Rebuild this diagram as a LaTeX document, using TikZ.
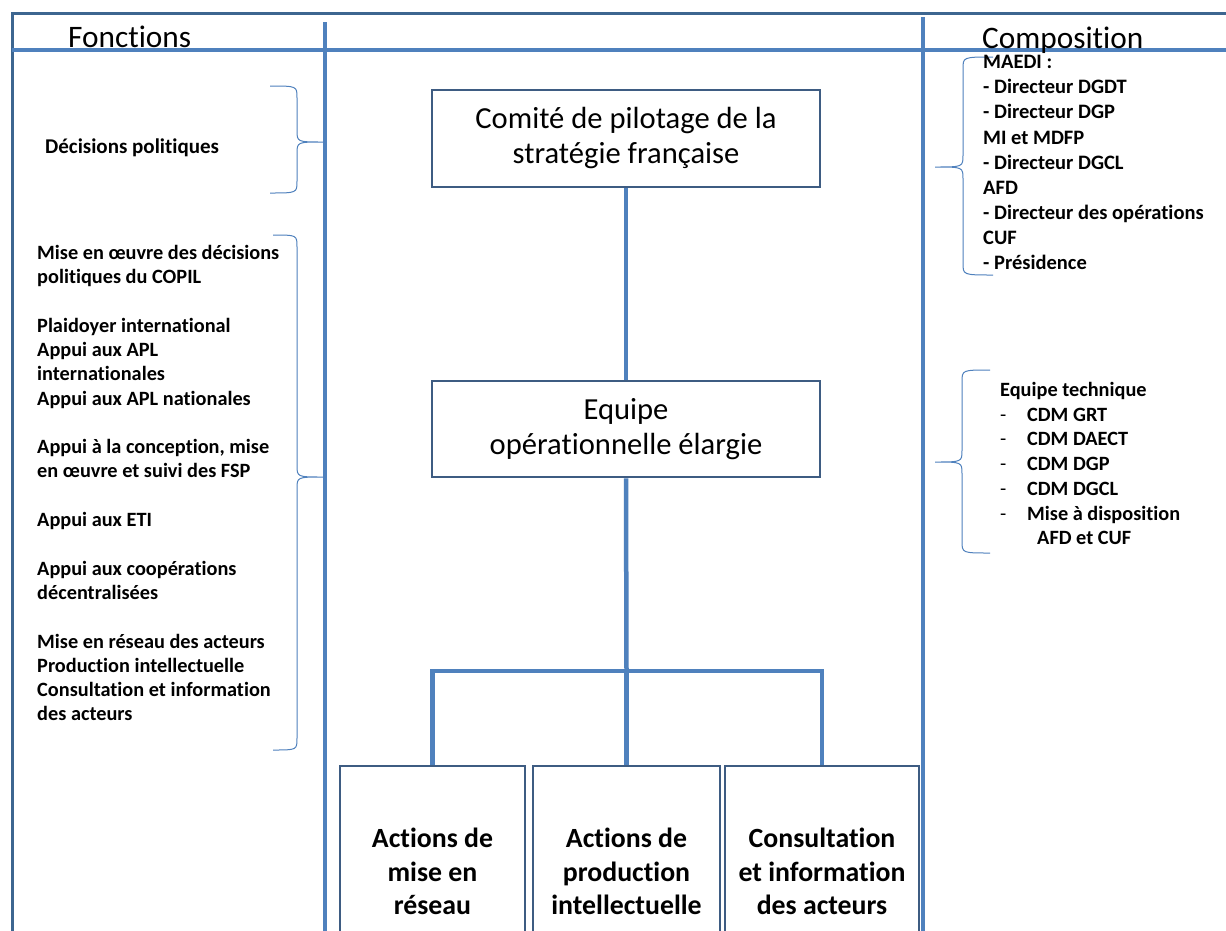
\documentclass[tikz,border=0pt]{standalone}
\usepackage{fontspec}
\setmainfont{Carlito}[Ligatures=NoCommon]
\definecolor{connc}{HTML}{4F81BD}
\definecolor{boxc}{HTML}{3E5C82}
\definecolor{framec}{HTML}{3D6690}
\newcommand{\mybraceR}[6]{% x_arm, x_vert, x_tip, ytop, ymid, ybot
  \draw[brace] (#1,#4) .. controls (#2,#4) .. (#2,#4+12) -- (#2,#5-12) .. controls (#2,#5) .. (#3,#5)
     .. controls (#2,#5) .. (#2,#5+12) -- (#2,#6-12) .. controls (#2,#6) .. (#1,#6);}
\begin{document}
\begin{tikzpicture}[x=1pt,y=-1pt,
  conn/.style={draw=connc,line width=4.5pt},
  orgbox/.style={draw=boxc,line width=2.5pt,fill=white,inner sep=0pt,align=center},
  brace/.style={draw=connc,line width=1pt},
  lst/.style={anchor=north west,inner sep=0pt,align=left,font=\bfseries\fontsize{20.3}{24.3}\selectfont},
  hdr/.style={anchor=base west,inner sep=0pt,font=\fontsize{31.3}{36}\selectfont}]
\useasboundingbox (0,0) rectangle (1226,930);
\fill[white] (0,0) rectangle (1226,930);

% frame
\coordinate (tl) at (12,13);
\coordinate (tr) at (1230,13);
\coordinate (bl) at (12,935);
\draw[draw=framec,line width=3pt] (bl) -- (tl) -- (tr);
\coordinate (hl) at (12,50);
\coordinate (hr) at (1230,50);
\draw[conn,line width=4pt] (hl) -- (hr);
\coordinate (v1t) at (325,22);
\coordinate (v1b) at (325,935);
\coordinate (v2t) at (923,17);
\coordinate (v2b) at (923,935);
\draw[conn] (v1t) -- (v1b);
\draw[conn] (v2t) -- (v2b);

% headers
\node[hdr] (fonc) at (68,47) {Fonctions};
\node[hdr] (compo) at (982,48) {Composition};

% org boxes
\node[orgbox,minimum width=388pt,minimum height=97pt,font=\fontsize{30.6}{35}\selectfont]
  (copil) at (626,138.5) {Comité de pilotage de la\\stratégie française};
\node[orgbox,minimum width=388pt,minimum height=96pt,font=\fontsize{30.6}{35}\selectfont]
  (eq) at (626,429) {Equipe\\opérationnelle élargie};
\node[orgbox,minimum width=185pt,minimum height=211pt,font=\bfseries\fontsize{27.8}{33.5}\selectfont]
  (b1) at (432.5,871.5) {Actions de\\mise en\\réseau};
\node[orgbox,minimum width=187pt,minimum height=211pt,font=\bfseries\fontsize{27.8}{33.5}\selectfont]
  (b2) at (626.5,871.5) {Actions de\\production\\intellectuelle};
\node[orgbox,minimum width=194pt,minimum height=211pt,font=\bfseries\fontsize{27.8}{33.5}\selectfont]
  (b3) at (822,871.5) {Consultation\\et information\\des acteurs};

% connectors
\coordinate (j) at (626.5,671);
\draw[conn] (copil.south) -- (eq.north);
\draw[conn] (eq.south) -- (j);
\draw[conn] (b1.north) |- (j) -| (b3.north);
\draw[conn] (j) -- (b2.north);

% braces
\mybraceR{270}{297}{323}{86}{142}{193}
\mybraceR{273}{297}{323}{235}{477}{750}
\mybraceR{993}{963}{935}{57}{167}{275}
\mybraceR{990}{962}{935}{370}{462}{553}

% texts
\node[anchor=base west,inner sep=0pt,font=\bfseries\fontsize{21}{24.3}\selectfont] (dec) at (45,153) {Décisions politiques};

\node[lst] (fl) at (37,242) {\strut Mise en œuvre des décisions\\
politiques du COPIL\\[24.3pt]
Plaidoyer international\\
Appui aux APL\\
internationales\\
Appui aux APL nationales\\[24.3pt]
Appui à la conception, mise\\
en œuvre et suivi des FSP\\[24.3pt]
Appui aux ETI\\[24.3pt]
Appui aux coopérations\\
décentralisées\\[24.3pt]
Mise en réseau des acteurs\\
Production intellectuelle\\
Consultation et information\\
des acteurs};

\node[lst,font=\bfseries\fontsize{20.5}{25.1}\selectfont] (cl) at (983,51) {\strut MAEDI :\\
- Directeur DGDT\\
- Directeur DGP\\
MI et MDFP\\
- Directeur DGCL\\
AFD\\
- Directeur des opérations\\
CUF\\
- Présidence};

\node[lst,font=\bfseries\fontsize{20.3}{24.7}\selectfont] (et) at (1000,379) {\strut Equipe technique\\
\makebox[27pt][l]{\mdseries -}CDM GRT\\
\makebox[27pt][l]{\mdseries -}CDM DAECT\\
\makebox[27pt][l]{\mdseries -}CDM DGP\\
\makebox[27pt][l]{\mdseries -}CDM DGCL\\
\makebox[27pt][l]{\mdseries -}Mise à disposition\\
\hspace*{37pt}AFD et CUF};
\end{tikzpicture}
\end{document}
